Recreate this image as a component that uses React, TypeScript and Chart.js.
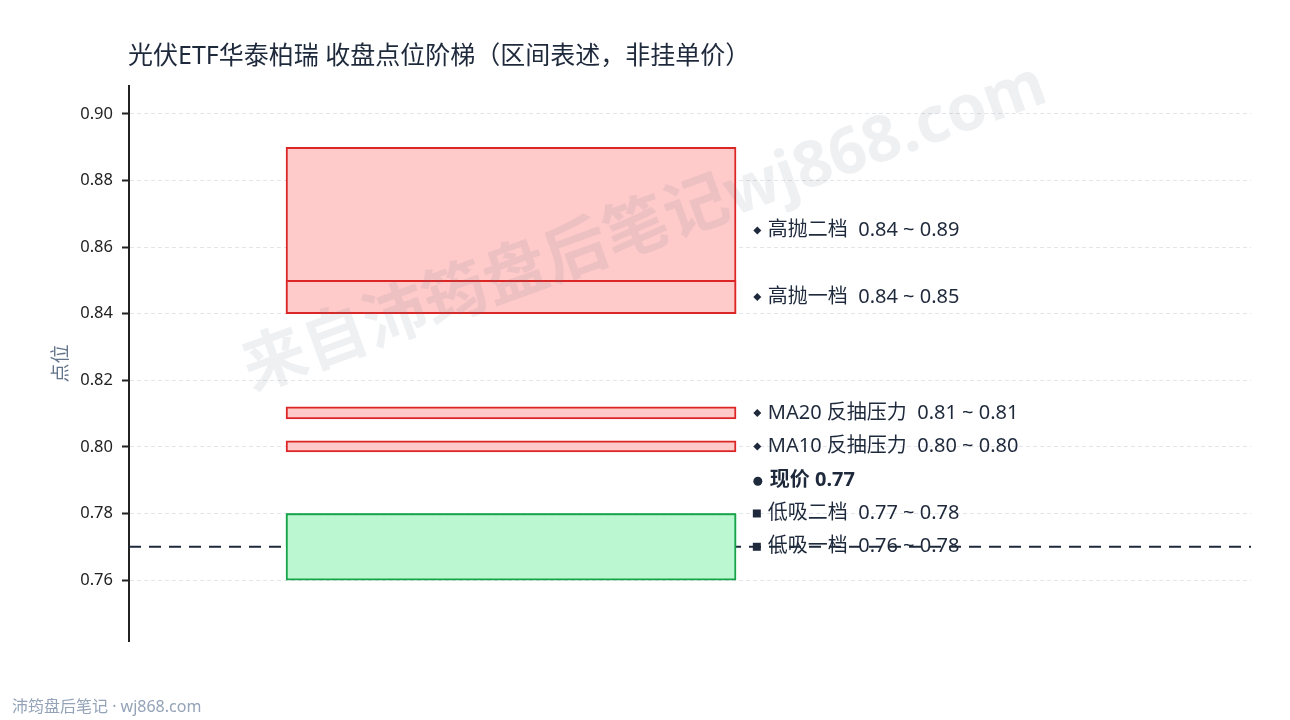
import React, { useEffect, useRef } from "react";
import { Chart, registerables } from "chart.js";

Chart.register(...registerables);

// ---------- data ----------
const TITLE = "光伏ETF华泰柏瑞 收盘点位阶梯（区间表述，非挂单价）";
const Y_TITLE = "点位";
const FOOTER = "沛筠盘后笔记 · wj868.com";
const WATERMARK = "来自沛筠盘后笔记wj868.com";

const zoneNames = ["高抛二档", "高抛一档", "MA20 反抽压力", "MA10 反抽压力", "低吸二档", "低吸一档"];
const zoneLow = [0.84, 0.84, 0.8084, 0.7985, 0.77, 0.76];
const zoneHigh = [0.89, 0.85, 0.812, 0.8018, 0.78, 0.78];
const zoneKind = ["sell", "sell", "ma", "ma", "buy", "buy"];

const currentLabel = "现价";
const currentPrice = 0.77;

const yTicks = [0.76, 0.78, 0.8, 0.82, 0.84, 0.86, 0.88, 0.9];
const yMin = 0.7417;
const yMax = 0.9084;

// label order top→bottom (index into zones, or "cur")
const labelOrder: (number | "cur")[] = [0, 1, 2, 3, "cur", 4, 5];
const labelGap = 0.01;

// ---------- styles ----------
const ZONE_X = 0.3405;
const LABEL_X = 0.556;
const FILL: Record<string, string> = { sell: "#fecaca", ma: "#fecaca", buy: "#bbf7d0" };
const STROKE: Record<string, string> = { sell: "#dc2626", ma: "#dc2626", buy: "#16a34a" };
const TEXT_COLOR = "#1e293b";
const FONT = "'Noto Sans', 'Noto Sans CJK SC', sans-serif";

const overlayPlugin = {
  id: "overlay",
  afterDatasetsDraw(chart: any) {
    const ctx: CanvasRenderingContext2D = chart.ctx;
    const ys = chart.scales.y;
    const xs = chart.scales.x;

    // watermark
    ctx.save();
    ctx.translate(645, 229);
    ctx.rotate((-20 * Math.PI) / 180);
    ctx.font = `bold 64px ${FONT}`;
    ctx.fillStyle = "rgba(100,116,139,0.11)";
    ctx.textAlign = "center";
    ctx.textBaseline = "middle";
    ctx.fillText(WATERMARK, 0, 0);
    ctx.restore();

    // label positions (resolve collisions bottom-up)
    const desired = labelOrder.map((k) =>
      k === "cur" ? currentPrice : (zoneLow[k] + zoneHigh[k]) / 2
    );
    const placed = desired.slice();
    for (let i = placed.length - 2; i >= 0; i--) {
      placed[i] = Math.max(desired[i], placed[i + 1] + labelGap);
    }

    const lx = xs.getPixelForValue(LABEL_X);
    ctx.save();
    ctx.textBaseline = "middle";
    ctx.textAlign = "left";
    labelOrder.forEach((k, i) => {
      const y = ys.getPixelForValue(placed[i]);
      ctx.fillStyle = TEXT_COLOR;
      if (k === "cur") {
        ctx.beginPath();
        ctx.arc(lx + 5, y + 1, 4.5, 0, Math.PI * 2);
        ctx.fill();
        ctx.font = `bold 20px ${FONT}`;
        ctx.fillText(`${currentLabel} ${currentPrice.toFixed(2)}`, lx + 17, y);
      } else {
        const kind = zoneKind[k];
        if (kind === "buy") {
          ctx.fillRect(lx, y - 4, 8, 8);
        } else {
          ctx.beginPath();
          ctx.moveTo(lx + 4.5, y - 4);
          ctx.lineTo(lx + 8.5, y);
          ctx.lineTo(lx + 4.5, y + 4);
          ctx.lineTo(lx + 0.5, y);
          ctx.closePath();
          ctx.fill();
        }
        ctx.font = `20px ${FONT}`;
        ctx.fillText(
          `${zoneNames[k]}  ${zoneLow[k].toFixed(2)} ~ ${zoneHigh[k].toFixed(2)}`,
          lx + 15,
          y
        );
      }
    });
    ctx.restore();
  },
  afterDraw(chart: any) {
    const ctx: CanvasRenderingContext2D = chart.ctx;
    ctx.save();
    ctx.textBaseline = "middle";
    ctx.textAlign = "left";
    ctx.fillStyle = TEXT_COLOR;
    ctx.font = `25px ${FONT}`;
    ctx.fillText(TITLE, chart.chartArea.left - 1, 57);
    ctx.fillStyle = "#94a3b8";
    ctx.font = `16px ${FONT}`;
    ctx.fillText(FOOTER, 12, 707);
    ctx.restore();
  },
};

export default function App() {
  const ref = useRef<HTMLCanvasElement | null>(null);

  useEffect(() => {
    if (!ref.current) return;
    const barSets = zoneNames.map((name, i) => ({
      type: "bar" as const,
      label: name,
      data: [{ x: ZONE_X, y: [zoneLow[i], zoneHigh[i]] }],
      backgroundColor: FILL[zoneKind[i]],
      borderColor: STROKE[zoneKind[i]],
      borderWidth: 2,
      borderSkipped: false as const,
      barThickness: 450,
      grouped: false,
      order: zoneNames.length - i,
    }));
    const lineSet = {
      type: "line" as const,
      label: currentLabel,
      data: [
        { x: 0, y: currentPrice },
        { x: 1, y: currentPrice },
      ],
      borderColor: "#1e293b",
      borderWidth: 2,
      borderDash: [12, 8],
      pointRadius: 0,
      fill: false,
      order: 100,
    };

    const chart = new Chart(ref.current, {
      type: "bar",
      data: { datasets: [...barSets, lineSet] as any },
      options: {
        animation: false,
        responsive: false,
        layout: { padding: { top: 86, right: 39, bottom: 79, left: 0 } },
        plugins: { legend: { display: false }, tooltip: { enabled: false }, title: { display: false } },
        scales: {
          x: {
            type: "linear",
            min: 0,
            max: 1,
            display: false,
            offset: false,
            grid: { display: false },
          },
          y: {
            type: "linear",
            min: yMin,
            max: yMax,
            beginAtZero: false,
            afterFit: (s: any) => {
              s.width = 129;
            },
            afterBuildTicks: (s: any) => {
              s.ticks = yTicks.map((v) => ({ value: v }));
            },
            ticks: {
              callback: (v: any) => Number(v).toFixed(2),
              color: "#222222",
              font: { family: FONT, size: 16.5 },
              padding: 9,
            },
            grid: {
              color: "#e2e5ea",
              lineWidth: 1,
              tickColor: "#222222",
              tickLength: 7,
              tickWidth: 2,
              tickBorderDash: [],
            },
            border: { display: true, color: "#222222", width: 2, dash: [4, 3] },
            title: {
              display: true,
              text: Y_TITLE,
              color: "#64748b",
              font: { family: FONT, size: 19 },
              padding: { top: 50, bottom: 0 },
            },
          },
        },
      } as any,
      plugins: [overlayPlugin],
    });
    return () => chart.destroy();
  }, []);

  return (
    <div style={{ position: "fixed", left: 0, top: 0, width: 1290, height: 720, background: "#fff" }}>
      <canvas ref={ref} width={1290} height={720} style={{ display: "block" }} />
    </div>
  );
}
